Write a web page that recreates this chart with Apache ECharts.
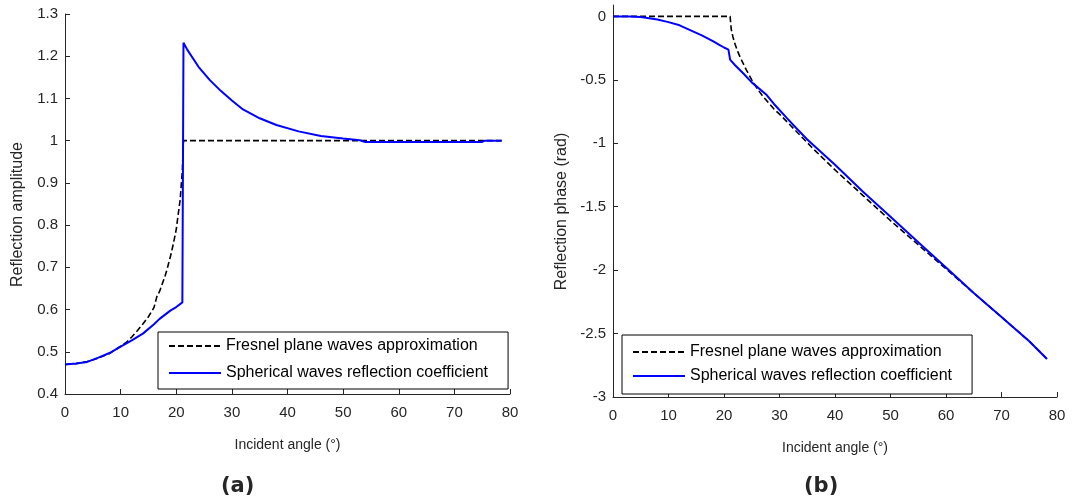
<!DOCTYPE html>
<html>
<head>
<meta charset="utf-8">
<script src="https://cdn.jsdelivr.net/npm/echarts@6/dist/echarts.min.js"></script>
<style>
  html, body { margin: 0; padding: 0; background: #fff; }
  #chart { width: 1073px; height: 500px; }
</style>
</head>
<body>
<div id="chart"></div>
<script>
// series names (same in both panels)
const FRESNEL = 'Fresnel plane waves approximation';
const SPHERICAL = 'Spherical waves reflection coefficient';

// (a) reflection amplitude
const ampFresnelAngle = [0, 2, 4, 6, 8, 10, 11, 12, 13, 14, 15, 16, 16.5, 17, 18, 18.3, 19, 19.5, 20, 20.7, 21.1, 21.3, 25, 30, 40, 50, 60, 70, 78.5];
const ampFresnel = [0.470, 0.472, 0.477, 0.485, 0.496, 0.513, 0.522, 0.535, 0.550, 0.566, 0.583, 0.605, 0.630, 0.643, 0.680, 0.693, 0.728, 0.757, 0.790, 0.860, 0.930, 1.0, 1.0, 1.0, 1.0, 1.0, 1.0, 1.0, 1.0];
const ampSphericalAngle = [0, 2, 4, 6, 8, 10, 12, 14, 16, 17, 18, 19, 20, 21.1, 21.3, 22, 24, 26, 28, 30, 32, 35, 38, 42, 46, 50, 53, 54, 75, 75.5, 78.5];
const ampSpherical = [0.470, 0.472, 0.476, 0.486, 0.497, 0.512, 0.527, 0.543, 0.565, 0.578, 0.588, 0.598, 0.606, 0.617, 1.232, 1.215, 1.175, 1.144, 1.118, 1.095, 1.074, 1.053, 1.037, 1.022, 1.011, 1.005, 1.001, 0.997, 0.997, 1.0, 1.0];

// (b) reflection phase
const phaseFresnelAngle = [0, 21.1, 21.3, 21.6, 22, 22.5, 23, 24, 25, 26, 27, 28, 29, 30, 32, 34, 36, 40, 45, 50, 55, 60, 65, 70, 75, 78.2];
const phaseFresnel = [0, 0, -0.10, -0.16, -0.22, -0.28, -0.33, -0.42, -0.50, -0.57, -0.63, -0.68, -0.73, -0.77, -0.86, -0.95, -1.04, -1.21, -1.41, -1.61, -1.80, -1.99, -2.18, -2.37, -2.56, -2.70];
const phaseSphericalAngle = [0, 3, 5, 8, 10, 12, 14, 16, 18, 19, 20, 20.8, 21.1, 22, 23.5, 25, 27.7, 29, 31.3, 33, 35, 40, 45, 50, 55, 60, 65, 70, 75, 78.2];
const phaseSpherical = [0, 0, -0.005, -0.025, -0.045, -0.07, -0.11, -0.15, -0.195, -0.22, -0.245, -0.262, -0.34, -0.385, -0.45, -0.52, -0.62, -0.69, -0.80, -0.88, -0.97, -1.17, -1.38, -1.58, -1.78, -1.98, -2.18, -2.37, -2.56, -2.70];

// tick labels
const angleTicks = [0, 10, 20, 30, 40, 50, 60, 70, 80];
const ampTicks = [0.4, 0.5, 0.6, 0.7, 0.8, 0.9, 1, 1.1, 1.2, 1.3];
const phaseTicks = [-3, -2.5, -2, -1.5, -1, -0.5, 0];

const FONT = '"Liberation Sans", Arial, sans-serif';
const AXIS_COLOR = '#262626';

function pairs(xs, ys) {
	return xs.map((x, i) => [x, ys[i]]);
}

function xAxis(gridIndex) {
	return {
		type: 'value',
		gridIndex: gridIndex,
		min: 0,
		max: 80,
		interval: 10,
		name: 'Incident angle (°)',
		nameLocation: 'middle',
		nameGap: 44,
		nameTextStyle: { fontFamily: FONT, fontSize: 14, color: AXIS_COLOR },
		axisLine: { onZero: false, lineStyle: { color: AXIS_COLOR, width: 1 } },
		axisTick: { inside: true, length: 5, lineStyle: { color: AXIS_COLOR } },
		axisLabel: { margin: 11, fontFamily: FONT, fontSize: 15, color: AXIS_COLOR, customValues: angleTicks },
		splitLine: { show: false }
	};
}

function yAxis(gridIndex, min, max, ticks, name, nameGap) {
	return {
		type: 'value',
		gridIndex: gridIndex,
		min: min,
		max: max,
		name: name,
		nameLocation: 'middle',
		nameGap: nameGap,
		// padding on the right pushes the rotated title a bit lower, like the original
		nameTextStyle: { fontFamily: FONT, fontSize: 16, color: AXIS_COLOR, padding: [0, 21, 0, 0] },
		axisLine: { show: true, onZero: false, lineStyle: { color: AXIS_COLOR, width: 1 } },
		axisTick: { show: true, inside: true, length: 5, lineStyle: { color: AXIS_COLOR }, customValues: ticks },
		axisLabel: { margin: 7, fontFamily: FONT, fontSize: 15, color: AXIS_COLOR, customValues: ticks },
		splitLine: { show: false }
	};
}

function legend(left, top, padding, gap) {
	return {
		orient: 'vertical',
		left: left,
		top: top,
		align: 'left',
		padding: padding,
		itemWidth: 52,
		itemHeight: 14,
		itemGap: gap,
		backgroundColor: '#fff',
		borderColor: '#000',
		borderWidth: 1,
		borderRadius: 0,
		selectedMode: false,
		// only the line sample, no marker
		itemStyle: { opacity: 0 },
		textStyle: { fontFamily: FONT, fontSize: 16, color: '#000' },
		data: [FRESNEL, SPHERICAL]
	};
}

const dashed = { color: '#000', width: 1.6, type: [6, 3] };
const solid = { color: '#0000ff', width: 2 };

function line(name, idx, data, style) {
	return {
		name: name,
		type: 'line',
		xAxisIndex: idx,
		yAxisIndex: idx,
		data: data,
		symbol: 'none',
		lineStyle: style,
		itemStyle: { color: style.color },
		animation: false
	};
}

let myChart = echarts.init(document.getElementById('chart'), null, { renderer: 'canvas' });

myChart.setOption({
	backgroundColor: '#fff',
	animation: false,
	grid: [
		{ left: 65, top: 14, width: 445, height: 380 },
		{ left: 613, top: 5, width: 444, height: 392 }
	],
	xAxis: [xAxis(0), xAxis(1)],
	yAxis: [
		yAxis(0, 0.4, 1.3, ampTicks, 'Reflection amplitude', 39),
		yAxis(1, -3, 0.09, phaseTicks, 'Reflection phase (rad)', 43)
	],
	legend: [
		legend(158, 332, [6, 20, 8, 10], 11),
		legend(622, 335, [9, 20, 10, 10], 8)
	],
	series: [
		line(FRESNEL, 0, pairs(ampFresnelAngle, ampFresnel), dashed),
		line(SPHERICAL, 0, pairs(ampSphericalAngle, ampSpherical), solid),
		line(FRESNEL, 1, pairs(phaseFresnelAngle, phaseFresnel), dashed),
		line(SPHERICAL, 1, pairs(phaseSphericalAngle, phaseSpherical), solid)
	],
	graphic: [
		{ type: 'text', left: 221, top: 476, style: { text: '(a)', font: 'bold 21px "DejaVu Sans", sans-serif', fill: '#262626' } },
		{ type: 'text', left: 804, top: 476, style: { text: '(b)', font: 'bold 21px "DejaVu Sans", sans-serif', fill: '#262626' } }
	]
});
</script>
</body>
</html>
